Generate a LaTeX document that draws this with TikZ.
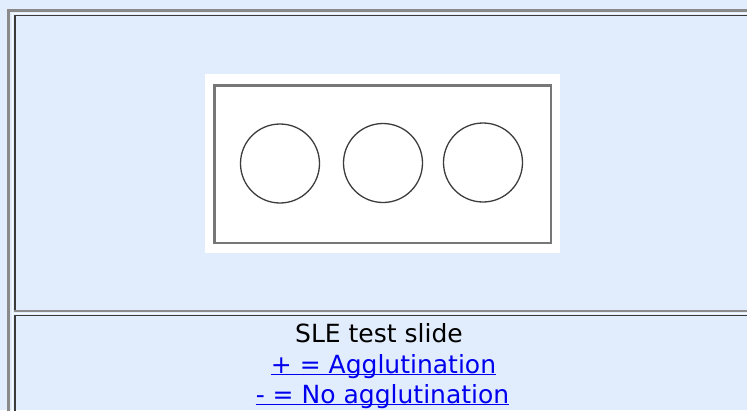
\documentclass[tikz,border=0pt]{standalone}
\usepackage{fontspec}
\setmainfont{DejaVu Sans}
\usetikzlibrary{positioning}
\definecolor{PageBg}{HTML}{E1ECFC}
\definecolor{Frame}{HTML}{8A8A8A}
\definecolor{CellEdge}{HTML}{3A3A3A}
\definecolor{CellLow}{HTML}{8C8C8C}
\definecolor{Slide}{HTML}{777777}
\definecolor{Ring}{HTML}{3C3C3C}
\definecolor{Link}{HTML}{0000EE}

\begin{document}
\begin{tikzpicture}[x=1pt,y=-1pt,
  outer/.style={draw=Frame,line width=3pt},
  cellhi/.style={draw=CellEdge,line width=1.4pt},
  celllo/.style={draw=CellLow,line width=1.6pt},
  shine/.style={draw=white,line width=1pt,opacity=0.8},
  well/.style={circle,draw=Ring,line width=1.3pt,minimum size=79pt,inner sep=0pt},
  caption/.style={font=\fontsize{25}{30}\selectfont,inner sep=0pt,anchor=base},
  link/.style={caption,text=Link},
  uline/.style={draw=Link,line width=1.3pt}
]
\fill[PageBg] (0,0) rectangle (747,410);
\useasboundingbox (0,0) rectangle (747,410);
\clip (0,0) rectangle (747,410);
% table frame and cell edges
\draw[outer] (8.5,420) -- (8.5,10.5) -- (760,10.5);
\draw[shine] (12.3,420) -- (12.3,13.2) -- (760,13.2);
\draw[cellhi] (14.8,310) -- (14.8,15.6) -- (760,15.6);
\draw[celllo] (14,311.2) -- (760,311.2);
\draw[shine] (14,313.2) -- (760,313.2);
\draw[cellhi] (14.8,420) -- (14.8,315.2) -- (760,315.2);
% slide picture
\node[fill=white,minimum width=355pt,minimum height=179pt,inner sep=0pt] (photo) at (382.5,163.5) {};
\node[draw=Slide,line width=2.5pt,minimum width=336.5pt,minimum height=157.5pt,inner sep=0pt] (slide) at (382.5,164) {};
\foreach \n/\x/\y in {w1/280/163.5,w2/383/163,w3/483/162.5} {
  \node[well] (\n) at (\x,\y) {};
}
% caption lines
\node[caption] (title) at (379,342) {SLE test slide};
\node[link] (agglut) at (383.5,373) {+ = Agglutination};
\node[link] (noagglut) at (382.5,403) {- = No agglutination};
\draw[uline] ([yshift=-1.8pt]agglut.base west) -- ([yshift=-1.8pt]agglut.base east);
\draw[uline] ([yshift=-1.8pt]noagglut.base west) -- ([yshift=-1.8pt]noagglut.base east);
\end{tikzpicture}
\end{document}
